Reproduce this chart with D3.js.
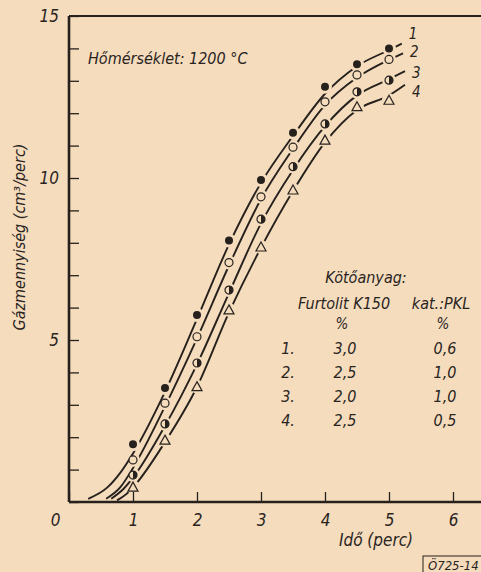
<!DOCTYPE html>
<html>
<head>
<meta charset="utf-8">
<script src="https://cdn.jsdelivr.net/npm/d3@7"></script>
<style>
  html, body { margin: 0; padding: 0; background: #f4dcbd; }
  svg text { font-family: "DejaVu Sans Condensed", "Liberation Sans Narrow", "DejaVu Sans", sans-serif; font-style: italic; fill: #2a241f; }
</style>
</head>
<body>
<svg id="chart" width="481" height="572"></svg>
<script>
// measured points (time in min, gas volume cm3/min)
let times = [1, 1.5, 2, 2.5, 3, 3.5, 4, 4.5, 5];
let s1 = [1.78, 3.52, 5.77, 8.07, 9.94, 11.4, 12.82, 13.51, 14.0];
let s2 = [1.3, 3.05, 5.1, 7.39, 9.42, 10.95, 12.35, 13.18, 13.66];
let s3 = [0.83, 2.41, 4.29, 6.54, 8.73, 10.35, 11.67, 12.66, 13.02];
let s4 = [0.46, 1.91, 3.56, 5.93, 7.87, 9.63, 11.17, 12.2, 12.4];

// hand drawn fitted curves
let c1 = [[0.3,0.1],[0.6,0.45],[0.8,0.9],[1,1.5],[1.5,3.4],[2,5.65],[2.5,7.95],[3,9.85],[3.5,11.3],[4,12.6],[4.5,13.45],[5,13.95],[5.2,14.15]];
let c2 = [[0.58,0.1],[0.8,0.45],[1,1.05],[1.5,2.95],[2,5.05],[2.5,7.3],[3,9.35],[3.5,10.9],[4,12.25],[4.5,13.1],[5,13.65],[5.22,13.85]];
let c3 = [[0.66,0.1],[0.85,0.4],[1,0.75],[1.5,2.35],[2,4.25],[2.5,6.45],[3,8.6],[3.5,10.25],[4,11.6],[4.5,12.55],[5,13.05],[5.25,13.3]];
let c4 = [[0.75,0.05],[0.9,0.25],[1,0.45],[1.5,1.85],[2,3.55],[2.5,5.85],[3,7.85],[3.5,9.6],[4,11.1],[4.5,12.1],[5,12.55],[5.25,12.88]];

let curveNames = ['1', '2', '3', '4'];
let xTicks = [0, 1, 2, 3, 4, 5, 6];
let yTicks = d3.range(0, 16);
let yLabels = [5, 10, 15];

// legend table
let legendHead = ['Furtolit K150', 'kat.:PKL'];
let legendRows = [['1.', '3,0', '0,6'], ['2.', '2,5', '1,0'], ['3.', '2,0', '1,0'], ['4.', '2,5', '0,5']];

const ink = '#26211d';
const paper = '#f4dcbd';

let svg = d3.select('#chart');
let width = +svg.attr('width');

let x = d3.scaleLinear().domain([0, 6]).range([69, 453]);
let y = d3.scaleLinear().domain([0, 15]).range([502, 16]);

// axes
let xAxis = svg.append('g')
    .attr('transform', `translate(0,${y(0)})`)
    .call(d3.axisBottom(x).tickValues(xTicks).tickSizeInner(-10).tickSizeOuter(0).tickPadding(12).tickFormat(d3.format('d')));
xAxis.select('.domain').remove();
xAxis.selectAll('line').attr('stroke', ink).attr('stroke-width', 1.3);
xAxis.selectAll('text').attr('font-size', 17).attr('font-family', null).attr('fill', null);
xAxis.selectAll('.tick').filter(d => d === 0).select('text').attr('dx', -14);

let yAxis = svg.append('g')
    .attr('transform', `translate(${x(0)},0)`)
    .call(d3.axisLeft(y).tickValues(yTicks).tickSizeInner(-10).tickSizeOuter(0).tickPadding(10)
        .tickFormat(d => yLabels.includes(d) ? d : ''));
yAxis.select('.domain').remove();
yAxis.selectAll('line').attr('stroke', ink).attr('stroke-width', 1.3);
yAxis.selectAll('text').attr('font-size', 17).attr('font-family', null).attr('fill', null);

// frame lines (left, top, bottom)
svg.append('line').attr('x1', x(0)).attr('x2', x(0)).attr('y1', y(15)).attr('y2', y(0))
    .attr('stroke', ink).attr('stroke-width', 2.6);
svg.append('line').attr('x1', x(0)).attr('x2', width).attr('y1', y(0)).attr('y2', y(0))
    .attr('stroke', ink).attr('stroke-width', 2.6);
svg.append('line').attr('x1', x(0)).attr('x2', width).attr('y1', y(15)).attr('y2', y(15))
    .attr('stroke', ink).attr('stroke-width', 2.2);

// curves, broken around their own markers
let series = [s1, s2, s3, s4];
let curves = [c1, c2, c3, c4];
let labelShift = [-5, 4, 7, 12];
let line = d3.line().x(d => x(d[0])).y(d => y(d[1])).curve(d3.curveMonotoneX);
let defs = svg.append('defs');

curves.forEach((c, i) => {
    let mask = defs.append('mask').attr('id', 'gap' + i)
        .attr('maskUnits', 'userSpaceOnUse').attr('x', 0).attr('y', 0).attr('width', 481).attr('height', 572);
    mask.append('rect').attr('width', 481).attr('height', 572).attr('fill', 'white');
    mask.selectAll('circle').data(series[i]).enter().append('circle')
        .attr('cx', (d, j) => x(times[j]))
        .attr('cy', d => y(d))
        .attr('r', 7)
        .attr('fill', 'black');
    svg.append('path')
        .datum(c)
        .attr('d', line)
        .attr('fill', 'none')
        .attr('stroke', ink)
        .attr('stroke-width', 1.9)
        .attr('mask', `url(#gap${i})`);
    let last = c[c.length - 1];
    svg.append('text')
        .attr('x', x(last[0]) + 7)
        .attr('y', y(last[1]) + labelShift[i])
        .attr('font-size', 15)
        .text(curveNames[i]);
});

// markers
let r = 4;
svg.append('g').selectAll('circle').data(s1).enter().append('circle')
    .attr('cx', (d, j) => x(times[j])).attr('cy', d => y(d)).attr('r', r)
    .attr('fill', ink);
svg.append('g').selectAll('circle').data(s2).enter().append('circle')
    .attr('cx', (d, j) => x(times[j])).attr('cy', d => y(d)).attr('r', r)
    .attr('fill', paper).attr('stroke', ink).attr('stroke-width', 1.2);
let half = svg.append('g').selectAll('g').data(s3).enter().append('g')
    .attr('transform', (d, j) => `translate(${x(times[j])},${y(d)})`);
half.append('circle').attr('r', r).attr('fill', paper).attr('stroke', ink).attr('stroke-width', 1.2);
half.append('path').attr('d', `M0,${-r}A${r},${r} 0 0 1 0,${r}Z`).attr('fill', ink);
svg.append('g').selectAll('path').data(s4).enter().append('path')
    .attr('transform', (d, j) => `translate(${x(times[j])},${y(d)})`)
    .attr('d', 'M0,-5L5,4L-5,4Z')
    .attr('fill', paper).attr('stroke', ink).attr('stroke-width', 1.2);

// titles
svg.append('text').attr('x', 88).attr('y', 64).attr('font-size', 16).text('Hőmérséklet: 1200 °C');
svg.append('text').attr('x', 376).attr('y', 546).attr('text-anchor', 'middle').attr('font-size', 17).text('Idő (perc)');
svg.append('text')
    .attr('transform', 'translate(25,237) rotate(-90)')
    .attr('text-anchor', 'middle')
    .attr('font-size', 16)
    .text('Gázmennyiség (cm³/perc)');

// legend
let lg = svg.append('g');
lg.append('text').attr('x', 366).attr('y', 283).attr('text-anchor', 'middle').attr('font-size', 16).text('Kötőanyag:');
lg.append('text').attr('x', 344).attr('y', 309).attr('text-anchor', 'middle').attr('font-size', 16).text(legendHead[0]);
lg.append('text').attr('x', 441).attr('y', 309).attr('text-anchor', 'middle').attr('font-size', 16).text(legendHead[1]);
lg.append('text').attr('x', 342).attr('y', 329).attr('text-anchor', 'middle').attr('font-size', 15).text('%');
lg.append('text').attr('x', 443).attr('y', 329).attr('text-anchor', 'middle').attr('font-size', 15).text('%');
let rows = lg.selectAll('g.row').data(legendRows).enter().append('g')
    .attr('transform', (d, i) => `translate(0,${354 + i * 24})`);
rows.append('text').attr('x', 288).attr('text-anchor', 'middle').attr('font-size', 16).text(d => d[0]);
rows.append('text').attr('x', 345).attr('text-anchor', 'middle').attr('font-size', 16).text(d => d[1]);
rows.append('text').attr('x', 445).attr('text-anchor', 'middle').attr('font-size', 16).text(d => d[2]);

// drawing number stamp
svg.append('rect').attr('x', 423).attr('y', 556).attr('width', 70).attr('height', 20)
    .attr('fill', 'none').attr('stroke', ink).attr('stroke-width', 1);
svg.append('text').attr('x', 428).attr('y', 570).attr('font-size', 13).text('Ö725-14');
</script>
</body>
</html>
